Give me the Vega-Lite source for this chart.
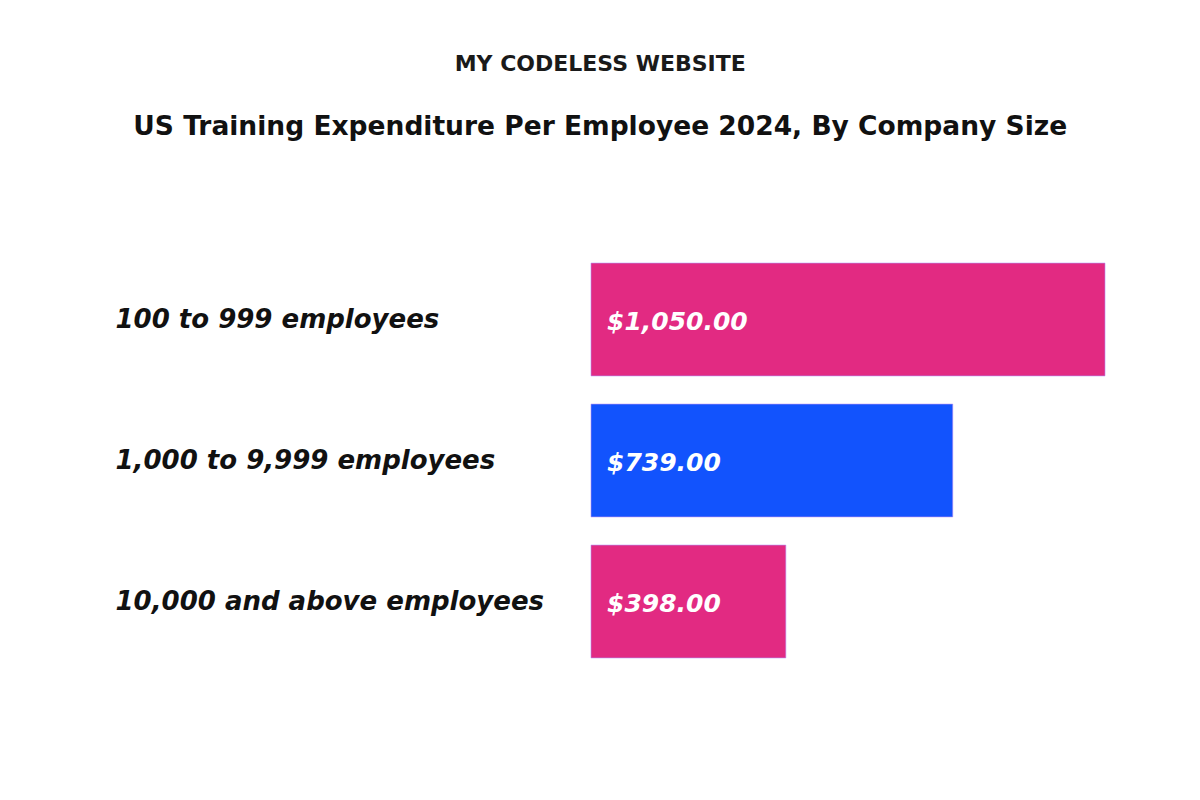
{
  "$schema": "https://vega.github.io/schema/vega-lite/v6.json",
  "width": 514,
  "height": 423,
  "padding": {"left": 115, "top": 52, "right": 95, "bottom": 20},
  "background": "white",
  "title": {
    "text": "MY CODELESS WEBSITE",
    "subtitle": "US Training Expenditure Per Employee 2024, By Company Size",
    "anchor": "middle",
    "frame": "bounds",
    "dx": -10,
    "font": "DejaVu Sans",
    "fontSize": 22,
    "fontWeight": "bold",
    "color": "#1a1a1a",
    "subtitleFont": "DejaVu Sans",
    "subtitleFontSize": 26.5,
    "subtitleFontWeight": "bold",
    "subtitleColor": "#111111",
    "subtitlePadding": 38,
    "offset": 108
  },
  "data": {
    "values": [
      {"size": "100 to 999 employees", "spend": 1050},
      {"size": "1,000 to 9,999 employees", "spend": 739},
      {"size": "10,000 and above employees", "spend": 398}
    ]
  },
  "encoding": {
    "y": {
      "field": "size",
      "type": "nominal",
      "sort": null,
      "scale": {"paddingInner": 0.2, "paddingOuter": 0.1},
      "axis": {
        "title": null,
        "domain": false,
        "ticks": false,
        "labelAlign": "left",
        "labelPadding": 476,
        "labelFont": "DejaVu Sans",
        "labelFontSize": 26,
        "labelFontWeight": "bold",
        "labelFontStyle": "italic",
        "labelColor": "#111111",
        "labelLimit": 470
      }
    },
    "x": {
      "field": "spend",
      "type": "quantitative",
      "scale": {"domain": [0, 1050], "nice": false},
      "axis": null
    }
  },
  "layer": [
    {
      "mark": {"type": "bar", "stroke": "#b48ef5", "strokeWidth": 1, "strokeOpacity": 0.6},
      "encoding": {
        "color": {
          "field": "size",
          "type": "nominal",
          "scale": {
            "domain": ["100 to 999 employees", "1,000 to 9,999 employees", "10,000 and above employees"],
            "range": ["#E22A82", "#1253FD", "#E22A82"]
          },
          "legend": null
        }
      }
    },
    {
      "mark": {
        "type": "text",
        "align": "left",
        "baseline": "middle",
        "dx": 16,
        "dy": 2,
        "color": "white",
        "font": "DejaVu Sans",
        "fontSize": 25,
        "fontWeight": "bold",
        "fontStyle": "italic"
      },
      "encoding": {
        "x": {"datum": 0},
        "text": {"field": "spend", "type": "quantitative", "format": "$,.2f"}
      }
    }
  ],
  "config": {
    "view": {"stroke": null},
    "axis": {"grid": false}
  }
}
